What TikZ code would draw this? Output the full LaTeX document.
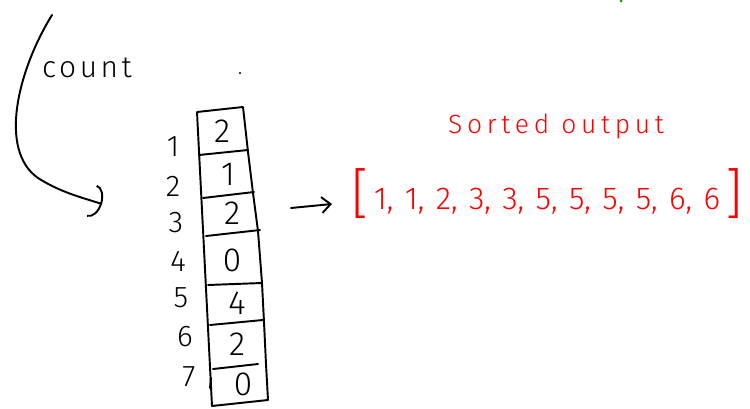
\documentclass[tikz,border=0pt]{standalone}
\usepackage{fontspec}
\setmainfont{Fira Sans}[UprightFont=* Light]
\usetikzlibrary{arrows.meta}

\begin{document}
\begin{tikzpicture}[x=0.2mm,y=-0.2mm,
  ink/.style={line width=1.1pt,line cap=round,line join=round},
  idx/.style={font=\fontsize{17}{17}\selectfont},
  val/.style={font=\fontsize{19}{19}\selectfont},
  redtext/.style={red,font=\fontsize{15}{15}\selectfont\addfontfeature{LetterSpace=18}}]
\useasboundingbox (0,0) rectangle (750,409);

% curved arrow for the counting pass
\coordinate (c1) at (52,15);
\coordinate (c2) at (102,204);
\node (count) at (87,68) [font=\fontsize{17}{17}\selectfont\addfontfeature{LetterSpace=12}] {count};
\draw[ink,-{Arc Barb[width=19pt,length=6pt]}] (c1) .. controls (18,70) and (-2,150) .. (38,178) .. controls (60,192) and (80,197) .. (c2);
\fill (240,73) circle (1.2);

% the count array
\draw[ink] (197,112) -- (243,107) -- (248,152) -- (253,193) -- (258,231) -- (262,283)
  -- (264,322) -- (266,364) -- (268,400) -- (212,406) -- cycle;
\foreach \a/\b/\c/\d in {199/155/248/150, 203/198/254/192, 206/236/260/230,
    208/285/262/283, 210/325/263/320, 213/369/258/364}
  \draw[ink] (\a,\b) -- (\c,\d);
\draw[ink] (211,378) -- (210,388);
\foreach \v/\x/\y [count=\i] in {2/222/131, 1/228/174, 2/232/213, 0/232/260,
    4/237/303, 2/237/344, 0/243/384}
  \node (v\i) at (\x,\y) [val] {\v};
\foreach \x/\y [count=\i] in {173/147, 173/186, 176/223, 178/261, 181/298,
    185/337, 189/377}
  \node (i\i) at (\x,\y) [idx] {\i};

% arrow to the output
\coordinate (a1) at (291,208);
\coordinate (a2) at (332,204);
\draw[ink,-{Straight Barb[width=9pt,length=5pt]}] (a1) -- (a2);

% sorted result
\node (title) at (556,126) [redtext] {Sorted output};
\node (out) at (547,194) [red,font=\fontsize{18}{18}\selectfont]
  {\spaceskip=6.5pt\relax{\fontsize{31}{31}\selectfont[}\,\raisebox{2pt}{1, 1, 2, 3, 3, 5, 5, 5, 5, 6, 6}\,{\fontsize{31}{31}\selectfont]}};
\fill[green!60!black] (621,1) circle (1.5);
\end{tikzpicture}
\end{document}
